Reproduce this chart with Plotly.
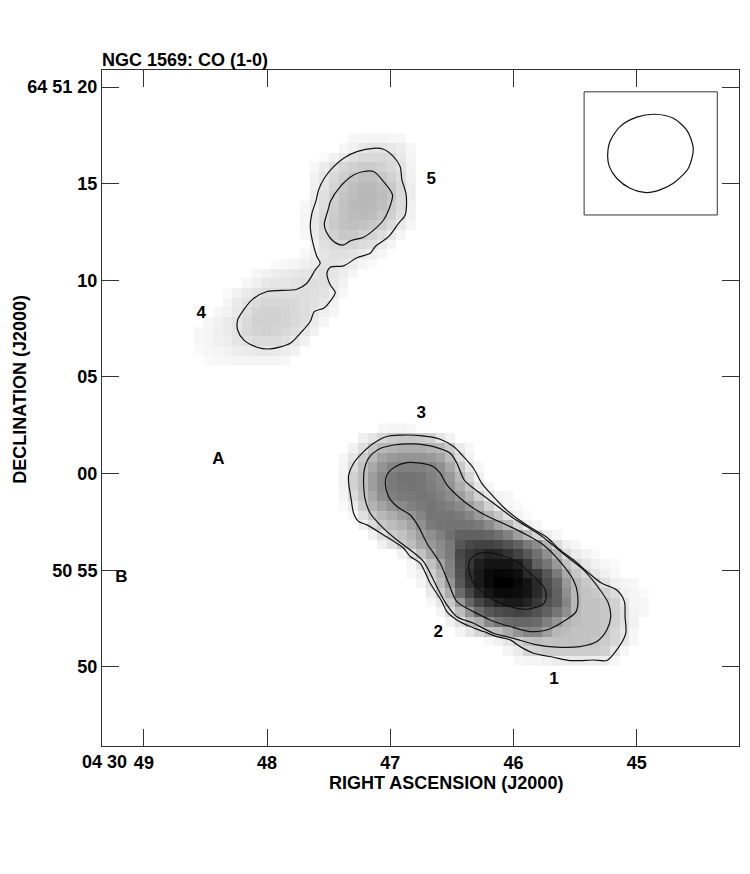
import plotly.graph_objects as go

# gray map values (0 = white, 100 = black), rows run north to south, cols east to west
south_rows = [
    [0,0,0,0,3,4,4,3],
    [0,0,6,10,16,20,22,22,20,18,10,5],
    [0,5,12,22,28,30,32,32,32,30,28,20,8,3],
    [3,10,20,28,36,40,42,42,42,40,36,26,14,5],
    [4,14,24,34,42,48,50,50,50,48,44,34,22,10,3],
    [5,18,26,38,46,52,55,55,54,50,46,40,28,16,6],
    [5,18,26,38,46,52,54,55,54,51,47,42,32,22,10,4],
    [4,14,24,34,44,50,52,53,54,53,50,45,38,30,18,9,4,3],
    [2,8,20,30,36,42,46,50,52,54,52,50,46,38,30,18,9,4,2],
    [0,3,12,22,28,32,38,42,48,54,54,54,52,48,40,30,22,12,5,2],
    [0,0,6,14,22,26,30,36,44,52,54,55,55,54,52,46,36,28,16,7,3],
    [0,0,0,6,12,20,24,30,38,44,50,56,62,62,62,60,56,50,38,28,16,7,3],
    [0,0,0,0,6,12,20,26,34,40,46,52,66,72,74,74,72,68,62,52,45,30,14,6,3],
    [0,0,0,0,0,0,5,12,24,34,44,52,72,78,82,86,85,80,74,66,56,44,30,14,8,5,2],
    [0,0,0,0,0,0,0,4,12,24,36,50,70,78,88,92,92,92,88,78,62,54,40,24,16,10,5,3,2],
    [0,0,0,0,0,0,0,3,6,18,30,48,68,82,90,96,98,97,94,84,78,66,52,34,22,16,10,6,3],
    [0,0,0,0,0,0,0,0,4,12,26,42,66,80,90,96,100,100,97,92,84,70,60,40,28,22,18,12,6,4,3],
    [0,0,0,0,0,0,0,0,0,8,20,32,58,72,84,92,96,96,95,92,84,72,62,44,28,24,22,18,14,6,4,2],
    [0,0,0,0,0,0,0,0,0,3,10,22,40,60,72,80,86,90,90,86,78,68,62,48,28,24,24,22,18,10,4,3],
    [0,0,0,0,0,0,0,0,0,0,4,14,26,42,58,66,70,72,74,72,68,62,54,44,28,24,24,22,18,12,5,3],
    [0,0,0,0,0,0,0,0,0,0,0,5,12,26,32,46,54,58,60,60,58,50,42,30,26,24,24,22,18,12,5],
    [0,0,0,0,0,0,0,0,0,0,0,0,4,10,16,24,26,34,42,48,48,38,28,26,24,24,24,22,16,10,3],
    [0,0,0,0,0,0,0,0,0,0,0,0,0,0,0,3,6,10,18,24,26,24,24,24,24,24,22,20,16,10,3],
    [0,0,0,0,0,0,0,0,0,0,0,0,0,0,0,0,0,4,8,16,18,20,20,20,20,20,20,18,10,3],
    [0,0,0,0,0,0,0,0,0,0,0,0,0,0,0,0,0,0,3,4,4,5,7,8,8,8,7,7,3],
]
north_rows = [
    [0,0,0,0,0,0,0,0,0,0,0,0,0,0,0,0,3,4,4,4,3,3],
    [0,0,0,0,0,0,0,0,0,0,0,0,0,0,0,3,6,9,11,11,9,7,3],
    [0,0,0,0,0,0,0,0,0,0,0,0,0,2,5,9,13,15,15,15,14,9,4],
    [0,0,0,0,0,0,0,0,0,0,0,0,3,7,12,16,18,20,20,18,15,11,5],
    [0,0,0,0,0,0,0,0,0,0,0,0,5,10,15,19,22,25,25,22,18,13,6],
    [0,0,0,0,0,0,0,0,0,0,0,0,6,11,17,22,25,27,27,25,21,15,7],
    [0,0,0,0,0,0,0,0,0,0,0,0,7,12,18,23,26,28,28,26,22,15,7],
    [0,0,0,0,0,0,0,0,0,0,0,3,8,13,19,24,27,28,27,25,20,14,6],
    [0,0,0,0,0,0,0,0,0,0,0,4,9,14,20,24,26,27,26,22,18,12,5],
    [0,0,0,0,0,0,0,0,0,0,0,4,9,15,21,24,25,24,22,19,14,8,3],
    [0,0,0,0,0,0,0,0,0,0,0,3,8,14,18,21,21,19,17,13,9,4],
    [0,0,0,0,0,0,0,0,0,0,0,0,6,12,15,16,16,14,12,8,4],
    [0,0,0,0,0,0,0,0,0,0,0,3,6,10,12,12,11,9,6,3],
    [0,0,0,0,0,0,0,0,2,3,4,6,8,11,11,9,7,4,2],
    [0,0,0,0,0,0,3,5,7,8,9,10,11,12,10,7,4],
    [0,0,0,0,0,3,6,9,10,10,11,12,13,12,9,5],
    [0,0,0,2,5,8,11,13,13,13,13,13,12,11,7,3],
    [0,0,0,4,8,11,14,16,16,16,15,13,12,9,5],
    [0,0,3,5,9,13,17,18,18,17,15,13,10,6,3],
    [0,3,5,8,11,15,18,18,18,17,15,12,8,4],
    [3,4,6,8,11,15,17,18,17,15,13,9,5],
    [3,4,6,7,10,12,14,14,14,12,9,5],
    [2,3,4,5,7,8,9,9,8,7,5],
    [0,2,3,3,4,4,4,4,4,3],
]
south_rows = [r + [0] * (32 - len(r)) for r in south_rows]
north_rows = [r + [0] * (23 - len(r)) for r in north_rows]

# contours, RA seconds / Dec arcsec past 64 50
south_ra_1 = [47.338,47.338,47.298,47.230,47.136,47.028,46.919,46.757,46.595,46.487,46.419,46.325,46.257,46.176,46.081,45.973,45.852,45.730,45.622,45.514,45.405,45.284,45.162,45.100,45.095,45.089,45.162,45.243,45.351,45.460,45.541,45.676,45.838,45.946,46.027,46.135,46.243,46.352,46.460,46.541,46.581,46.676,46.757,46.838,46.892,47.055,47.190,47.257,47.298,47.317,47.338]
south_dec_1 = [59.50,59.93,60.54,61.05,61.57,61.92,61.99,61.97,61.78,61.40,60.97,60.28,59.50,58.90,58.26,57.69,57.17,56.71,56.05,55.54,54.94,54.33,53.98,53.38,52.60,51.74,50.88,50.33,50.36,50.33,50.33,50.50,50.71,51.05,51.40,51.57,51.83,52.09,52.43,52.86,53.38,54.33,55.36,55.71,56.14,56.83,57.35,57.52,57.95,58.64,59.50]
south_ra_2 = [47.217,47.211,47.176,47.095,46.973,46.811,46.649,46.514,46.460,46.400,46.325,46.216,46.108,46.000,45.892,45.784,45.649,45.568,45.432,45.297,45.230,45.211,45.243,45.324,45.460,45.649,45.811,46.000,46.162,46.325,46.460,46.541,46.595,46.636,46.730,46.838,46.946,47.055,47.163,47.203,47.217]
south_dec_2 = [59.50,60.19,60.80,61.26,61.48,61.54,61.40,61.05,60.54,59.67,59.24,58.73,58.21,57.69,57.26,56.83,56.14,55.71,55.02,53.98,53.29,52.60,51.91,51.31,51.05,51.02,51.14,51.48,51.74,52.26,52.60,53.21,53.81,54.33,55.45,56.05,56.57,57.17,57.95,58.64,59.50]
south_ra_3 = [47.041,47.028,46.960,46.865,46.757,46.649,46.595,46.541,46.433,46.325,46.216,46.027,45.892,45.757,45.622,45.514,45.481,45.492,45.595,45.730,45.865,46.027,46.189,46.325,46.460,46.527,46.595,46.703,46.771,46.838,46.946,47.014,47.041]
south_dec_3 = [59.50,59.93,60.36,60.57,60.54,60.36,60.02,59.42,58.73,58.21,57.81,57.26,56.83,56.31,55.45,54.50,53.81,52.86,52.35,51.91,51.83,52.09,52.43,52.86,53.38,54.33,55.36,56.40,57.26,57.86,58.30,58.81,59.50]
south_ra_4 = [46.365,46.352,46.298,46.216,46.108,45.973,45.865,45.757,45.735,45.757,45.892,46.027,46.162,46.270,46.338,46.365]
south_dec_4 = [55.19,55.54,55.83,55.93,55.79,55.45,54.85,54.16,53.73,53.26,52.98,53.12,53.47,53.98,54.50,55.19]
north_ra_1 = [47.569,47.596,47.628,47.650,47.636,47.601,47.582,47.536,47.460,47.379,47.271,47.136,47.055,46.974,46.920,46.906,46.871,46.879,46.933,47.014,47.122,47.163,47.271,47.379,47.487,47.514,47.487,47.447,47.501,47.541,47.617,47.650,47.731,47.812,47.974,48.082,48.190,48.239,48.239,48.190,48.123,48.001,47.758,47.677,47.609,47.569]
north_dec_1 = [70.88,71.23,71.92,72.78,73.47,74.16,74.68,75.28,75.88,76.32,76.66,76.83,76.78,76.40,75.88,75.20,74.42,73.38,72.95,72.26,71.75,71.40,71.17,70.75,70.68,70.37,69.76,69.37,68.81,68.56,68.38,67.87,67.26,66.74,66.45,66.54,66.92,67.43,67.95,68.47,68.99,69.42,69.54,69.85,70.54,70.88]
north_ra_2 = [47.536,47.501,47.487,47.406,47.298,47.217,47.136,47.055,46.982,47.014,47.055,47.150,47.217,47.325,47.379,47.447,47.514,47.536]
north_dec_2 = [72.87,73.73,74.07,74.85,75.45,75.63,75.63,75.11,74.42,73.64,73.12,72.52,72.23,72.04,71.83,71.95,72.44,72.87]

beam_ra = [45.236,45.217,45.136,45.000,44.852,44.703,44.595,44.541,44.581,44.703,44.811,44.919,45.054,45.163,45.222,45.236]
beam_dec = [76.40,77.18,77.95,78.44,78.59,78.38,77.78,76.83,75.80,75.02,74.68,74.54,74.76,75.28,75.88,76.40]
box_ra = [45.427,44.346,44.346,45.427,45.427]
box_dec = [79.75,79.75,73.38,73.38,79.75]

label_text = ["5", "4", "3", "2", "1", "A", "B"]
label_ra = [46.668, 48.534, 46.749, 46.612, 45.671, 48.396, 49.182]
label_dec = [75.19, 68.26, 63.09, 51.76, 49.33, 60.71, 54.60]

ra_ticks = [49, 48, 47, 46, 45]
ra_labels = ["49", "48", "47", "46", "45"]
dec_ticks = [80, 75, 70, 65, 60, 55, 50]
dec_labels = ["64 51 20", "15", "10", "05", "00", "50 55", "50"]

FONT = "Liberation Sans"
gray_scale = [[0, "#ffffff"], [1, "#000000"]]

fig = go.Figure()
fig.add_trace(go.Heatmap(z=south_rows, x0=47.3795, dx=-0.0785, y0=62.34, dy=-0.5,
                         colorscale=gray_scale, zmin=0, zmax=100, showscale=False))
fig.add_trace(go.Heatmap(z=north_rows, x0=48.556, dx=-0.0785, y0=77.35, dy=-0.5,
                         colorscale=gray_scale, zmin=0, zmax=100, showscale=False))

contours = [(south_ra_1, south_dec_1), (south_ra_2, south_dec_2), (south_ra_3, south_dec_3),
            (south_ra_4, south_dec_4), (north_ra_1, north_dec_1), (north_ra_2, north_dec_2),
            (beam_ra, beam_dec)]
for ra, dec in contours:
    fig.add_trace(go.Scatter(x=ra, y=dec, mode="lines",
                             line=dict(color="#111111", width=1.2, shape="spline", smoothing=0.8)))
fig.add_trace(go.Scatter(x=box_ra, y=box_dec, mode="lines", line=dict(color="#333333", width=1)))
fig.add_trace(go.Scatter(x=label_ra, y=label_dec, mode="text", text=label_text, cliponaxis=False,
                         textfont=dict(family=FONT, size=17, color="black", weight="bold")))

tick_font = dict(family=FONT, size=18, color="black", weight="bold")
fig.update_xaxes(range=[49.34, 44.17], tickvals=ra_ticks, ticktext=ra_labels, ticks="inside", ticklen=17,
                 tickcolor="#333333", mirror="allticks", showline=True, linecolor="#333333", linewidth=1,
                 showgrid=False, zeroline=False, tickfont=tick_font)
fig.update_yaxes(range=[45.91, 80.88], tickvals=dec_ticks, ticktext=dec_labels, ticks="inside", ticklen=17,
                 tickcolor="#333333", mirror="allticks", showline=True, linecolor="#333333", linewidth=1,
                 showgrid=False, zeroline=False, tickfont=tick_font)

fig.update_layout(
    width=750, height=874, showlegend=False, plot_bgcolor="white", paper_bgcolor="white",
    margin=dict(l=101.5, r=11, t=70, b=128),
    annotations=[
        dict(text="NGC 1569: CO (1-0)", xref="paper", yref="paper", x=0, y=1, xanchor="left", yanchor="bottom",
             showarrow=False, xshift=-2, yshift=-2, font=tick_font),
        dict(text="04 30", xref="x", yref="paper", x=49.118, y=0, xanchor="right", yanchor="top",
             showarrow=False, yshift=-4, font=tick_font),
        dict(text="RIGHT ASCENSION (J2000)", xref="paper", yref="paper", x=0.5404, y=0, yanchor="top",
             showarrow=False, yshift=-25, font=tick_font),
        dict(text="DECLINATION (J2000)", xref="paper", yref="paper", x=-0.1294, y=0.528, xanchor="center",
             yanchor="middle", textangle=-90, showarrow=False, font=tick_font),
    ],
)

fig.write_html("out.html", config={"displayModeBar": False}, post_script="document.body.style.margin='0';")
